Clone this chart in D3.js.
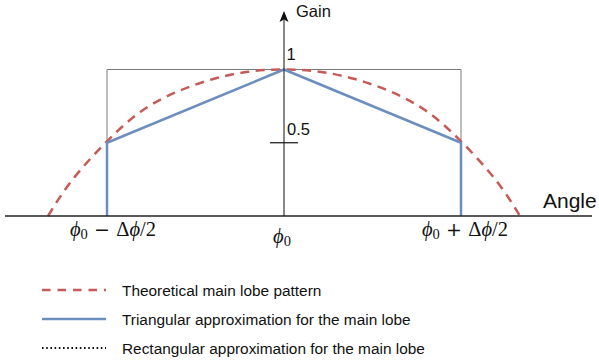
<!DOCTYPE html>
<html>
<head>
<meta charset="utf-8">
<script src="https://cdn.jsdelivr.net/npm/d3@7/dist/d3.min.js"></script>
<style>
  html, body { margin: 0; padding: 0; background: #fff; }
  svg { display: block; }
  text { font-family: "Liberation Sans", Arial, Helvetica, sans-serif; fill: #111; }
  .math { font-family: "Liberation Serif", "Times New Roman", serif; }
  .op { font-family: "DejaVu Serif", serif; }
</style>
</head>
<body>
<svg id="chart" width="599" height="364"></svg>
<script>
// Angle is measured in units of Δϕ/2 around ϕ0 (ϕ0 = 0, edges at ±1).
const curveAngles = [-1.333, -1.2, -1.0, -0.8, -0.6, -0.4, -0.2, 0, 0.2, 0.4, 0.6, 0.8, 1.0, 1.2, 1.333];
const curveGains  = [0, 0.24, 0.51, 0.72, 0.85, 0.935, 0.985, 1, 0.985, 0.935, 0.85, 0.72, 0.51, 0.24, 0];

const triAngles = [-1, -1, 0, 1, 1];
const triGains  = [0, 0.5, 1, 0.5, 0];

const rectAngles = [-1, -1, 1, 1];
const rectGains  = [0.5, 1, 1, 0.5];

const yTickValues = [0.5];
const yTopLabel = "1";
const xTickValues = [-1, 0, 1];

const legendLabels = [
  "Theoretical main lobe pattern",
  "Triangular approximation for the main lobe",
  "Rectangular approximation for the main lobe"
];

const RED = "#c65a56", BLUE = "#6c8ebf";

const svg = d3.select("#chart");
const x = d3.scaleLinear().domain([-1, 1]).range([107, 461]);
const y = d3.scaleLinear().domain([0, 1]).range([216, 69.5]);

// rectangle approximation (thin grey outline)
svg.append("path")
  .attr("d", d3.line().x((d, i) => x(rectAngles[i])).y((d, i) => y(rectGains[i]))(rectAngles))
  .attr("fill", "none").attr("stroke", "#7a7a7a").attr("stroke-width", 1);

// theoretical lobe
svg.append("path")
  .attr("d", d3.line().curve(d3.curveNatural)
    .x((d, i) => x(curveAngles[i])).y((d, i) => y(curveGains[i]))(curveAngles))
  .attr("fill", "none").attr("stroke", RED).attr("stroke-width", 2.5)
  .attr("stroke-dasharray", "9,6.5");

// triangular approximation
svg.append("path")
  .attr("d", d3.line().x((d, i) => x(triAngles[i])).y((d, i) => y(triGains[i]))(triAngles))
  .attr("fill", "none").attr("stroke", BLUE).attr("stroke-width", 2.5)
  .attr("stroke-linejoin", "round");

// horizontal axis
svg.append("line").attr("x1", 5).attr("x2", 592).attr("y1", y(0)).attr("y2", y(0))
  .attr("stroke", "#222").attr("stroke-width", 1.5);

// vertical axis with arrow
svg.append("line").attr("x1", x(0)).attr("x2", x(0)).attr("y1", y(0)).attr("y2", 20)
  .attr("stroke", "#111").attr("stroke-width", 1);
svg.append("path")
  .attr("d", `M${x(0)},11 L${x(0) + 4.5},22 L${x(0)},19.5 L${x(0) - 4.5},22 Z`)
  .attr("fill", "#111");

// y tick marks and labels
yTickValues.forEach(v => {
  svg.append("line").attr("x1", x(0) - 14).attr("x2", x(0) + 14)
    .attr("y1", y(v)).attr("y2", y(v)).attr("stroke", "#111").attr("stroke-width", 1.2);
  svg.append("text").attr("x", x(0) + 3).attr("y", y(v) - 7.5)
    .attr("font-size", 16.5).text(String(v));
});
svg.append("text").attr("x", x(0) + 2.5).attr("y", y(1) - 9.5).attr("font-size", 16.5).text(yTopLabel);

svg.append("text").attr("x", 296).attr("y", 17).attr("font-size", 16.5).text("Gain");
svg.append("text").attr("x", 543).attr("y", 208).attr("font-size", 21).text("Angle");

// x tick labels with math notation
function phiLabel(sel, sign) {
  sel.append("tspan").attr("font-style", "italic").text("ϕ");
  sel.append("tspan").attr("font-size", 14.5).attr("dy", 3).text("0");
  if (sign) {
    sel.append("tspan").attr("dy", -3).attr("class", "op").attr("font-size", 19)
      .text("\u2004" + sign + "\u2004");
    sel.append("tspan").text("Δ");
    sel.append("tspan").attr("font-style", "italic").text("ϕ");
    sel.append("tspan").text("/2");
  }
}
xTickValues.forEach(v => {
  const sign = v < 0 ? "\u2212" : v > 0 ? "+" : null;
  const t = svg.append("text").attr("class", "math")
    .attr("x", x(v) + (v < 0 ? 6 : v > 0 ? 4 : -2))
    .attr("y", v === 0 ? 243 : 236)
    .attr("font-size", 20.5)
    .attr("text-anchor", "middle");
  phiLabel(t, sign);
});

// legend
const legY = [290, 319, 348];
const lg = svg.append("g");
lg.append("line").attr("x1", 42).attr("x2", 106).attr("y1", legY[0]).attr("y2", legY[0])
  .attr("stroke", RED).attr("stroke-width", 2.5).attr("stroke-dasharray", "8.5,7");
lg.append("line").attr("x1", 42).attr("x2", 106).attr("y1", legY[1]).attr("y2", legY[1])
  .attr("stroke", BLUE).attr("stroke-width", 2.5);
lg.append("line").attr("x1", 42).attr("x2", 106).attr("y1", legY[2]).attr("y2", legY[2])
  .attr("stroke", "#111").attr("stroke-width", 2).attr("stroke-dasharray", "1.6,2.6");
legendLabels.forEach((s, i) => {
  lg.append("text").attr("x", 122).attr("y", legY[i] + 5.5).attr("font-size", 15.4).text(s);
});
</script>
</body>
</html>
